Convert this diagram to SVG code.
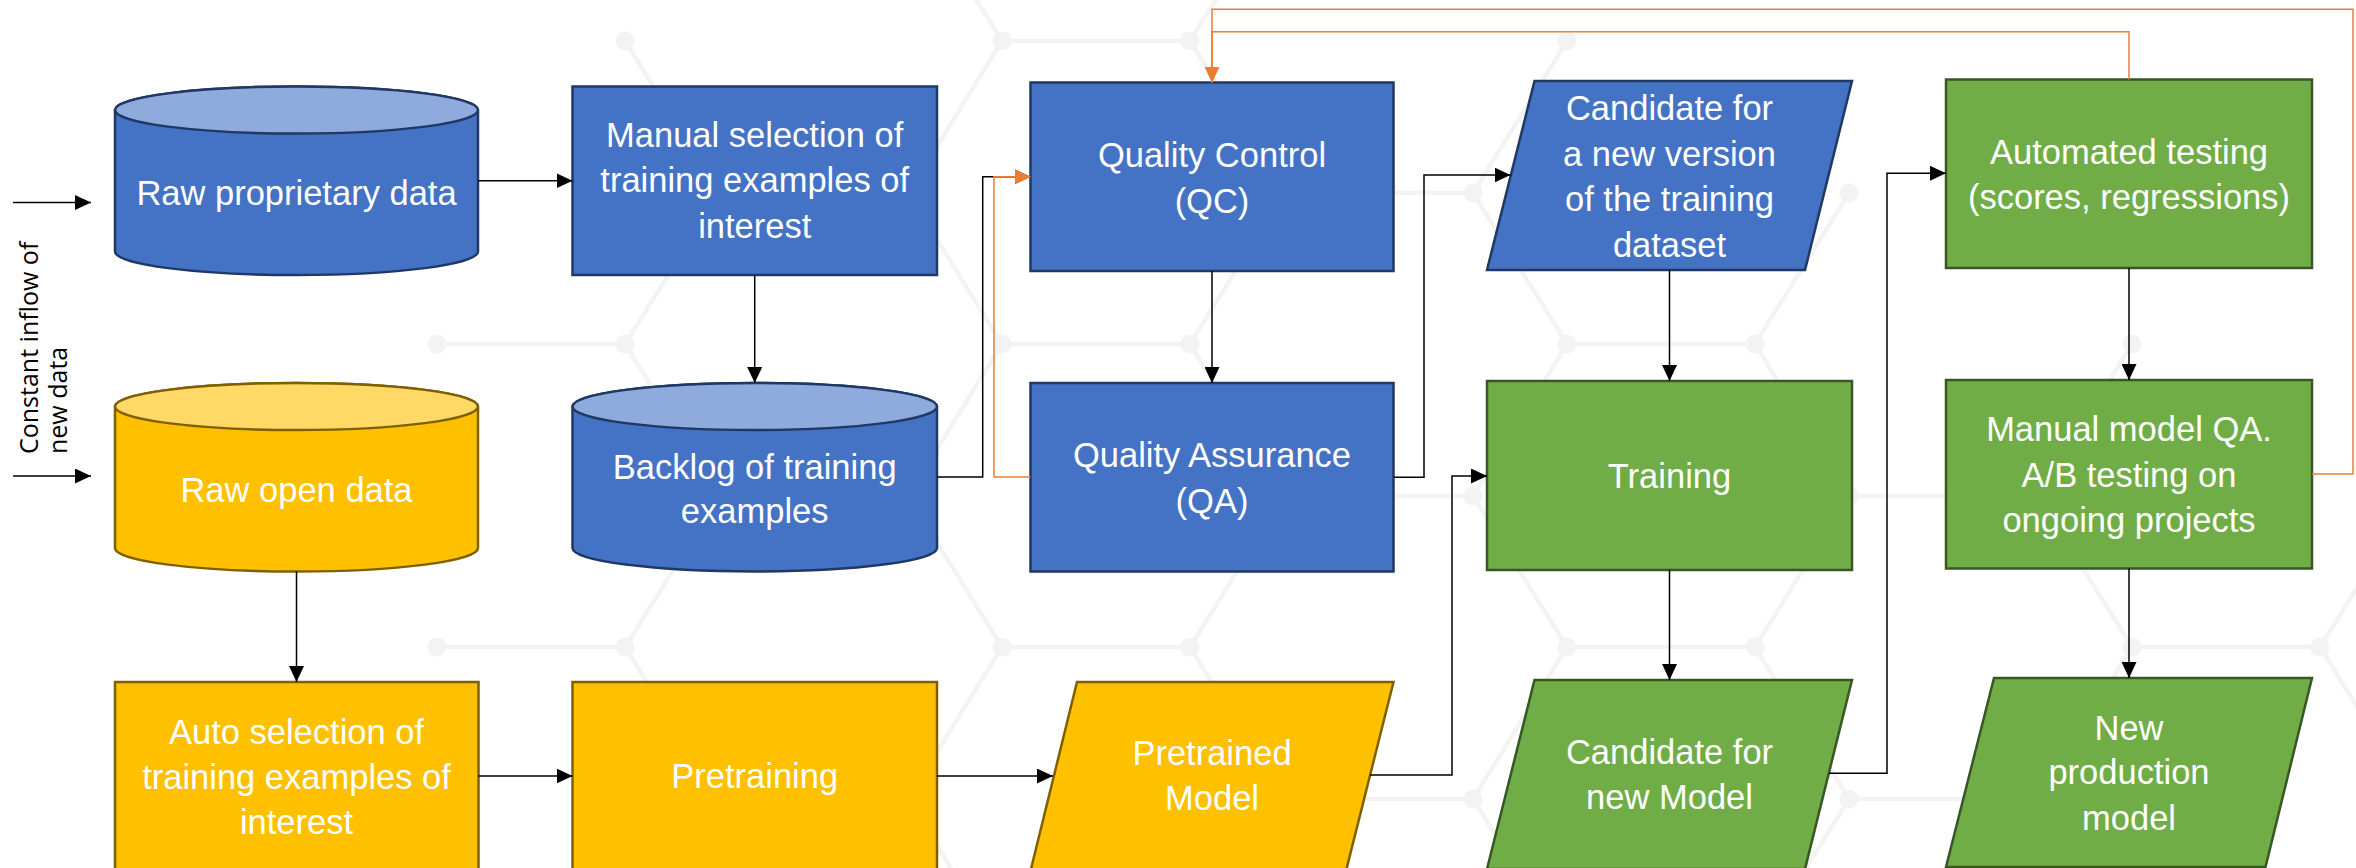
<svg xmlns="http://www.w3.org/2000/svg" width="2356" height="868" viewBox="0 0 2356 868">
  <style>
    .bg { fill: none; stroke: #f3f3f3; stroke-width: 4.5; stroke-linecap: round; }
    .dot { fill: #f3f3f3; }
    .blue { fill: #4472C4; stroke: #1F3864; stroke-width: 2.5; }
    .blueTop { fill: #8FAADC; stroke: #1F3864; stroke-width: 2.5; }
    .yellow { fill: #FFC000; stroke: #7F6000; stroke-width: 2.5; }
    .yellowTop { fill: #FFD966; stroke: #7F6000; stroke-width: 2.5; }
    .green { fill: #70AD47; stroke: #385723; stroke-width: 2.5; }
    .t { font-family: "Liberation Sans", Arial, sans-serif; font-size: 34.5px; fill: #ffffff; text-anchor: middle; }
    .side { font-family: "Open Sans", "DejaVu Sans", sans-serif; font-size: 25px; fill: #000000; }
    .k { fill: none; stroke: #000000; stroke-width: 1.5; }
    .o { fill: none; stroke: #ED7D31; stroke-width: 1.5; }
  </style>
  <defs>
    <marker id="ak" viewBox="0 0 16 15" refX="16" refY="7.5" markerWidth="16" markerHeight="15" markerUnits="userSpaceOnUse" orient="auto">
      <path d="M0,0 L16,7.5 L0,15 Z" fill="#000000"/>
    </marker>
    <marker id="ao" viewBox="0 0 16 15" refX="16" refY="7.5" markerWidth="16" markerHeight="15" markerUnits="userSpaceOnUse" orient="auto">
      <path d="M0,0 L16,7.5 L0,15 Z" fill="#ED7D31"/>
    </marker>
  </defs>

  <rect width="2356" height="868" fill="#ffffff"/>

  <!-- faint hexagon network behind the flow -->
  <g id="background">
    <path class="bg" d="
      M625,41 L720,193
      M908,-110 L1002,41 L1190,41 L1284,-110
      M1002,41 L908,193 M1190,41 L1284,193 M1567,41 L1473,193
      M720,193 L908,193 M1284,193 L1473,193
      M720,193 L625,344 M908,193 L1002,344 M1284,193 L1190,344 M1473,193 L1567,344 M1849,193 L1755,344
      M437,344 L625,344 M1002,344 L1190,344 M1567,344 L1755,344
      M625,344 L720,496 M1002,344 L908,496 M1190,344 L1284,496 M1567,344 L1473,496 M1755,344 L1849,496 M2132,344 L2038,496
      M720,496 L908,496 M1284,496 L1473,496 M1849,496 L2038,496
      M720,496 L625,647 M908,496 L1002,647 M1284,496 L1190,647 M1473,496 L1567,647 M1849,496 L1755,647 M2038,496 L2132,647 M2414,496 L2320,647
      M437,647 L625,647 M1002,647 L1190,647 M1567,647 L1755,647 M2132,647 L2320,647
      M625,647 L720,799 M1002,647 L908,799 M1190,647 L1284,799 M1567,647 L1473,799 M1755,647 L1849,799 M2132,647 L2038,799 M2320,647 L2414,799
      M720,799 L908,799 M1284,799 L1473,799 M1849,799 L2038,799
      M720,799 L625,950 M908,799 L1002,950 M1284,799 L1190,950 M1473,799 L1567,950 M1849,799 L1755,950 M2038,799 L2132,950"/>
    <g class="dot">
      <circle cx="625" cy="41" r="9.5"/><circle cx="1002" cy="41" r="9.5"/><circle cx="1190" cy="41" r="9.5"/><circle cx="1567" cy="41" r="9.5"/>
      <circle cx="1473" cy="193" r="9.5"/><circle cx="1849" cy="193" r="9.5"/>
      <circle cx="437" cy="344" r="9.5"/><circle cx="625" cy="344" r="9.5"/><circle cx="1002" cy="344" r="9.5"/><circle cx="1190" cy="344" r="9.5"/>
      <circle cx="1567" cy="344" r="9.5"/><circle cx="1755" cy="344" r="9.5"/><circle cx="2132" cy="344" r="9.5"/>
      <circle cx="1473" cy="496" r="9.5"/><circle cx="1849" cy="496" r="9.5"/>
      <circle cx="437" cy="647" r="9.5"/><circle cx="625" cy="647" r="9.5"/><circle cx="1002" cy="647" r="9.5"/><circle cx="1190" cy="647" r="9.5"/>
      <circle cx="1567" cy="647" r="9.5"/><circle cx="1755" cy="647" r="9.5"/><circle cx="2132" cy="647" r="9.5"/><circle cx="2320" cy="647" r="9.5"/>
      <circle cx="1473" cy="799" r="9.5"/><circle cx="1849" cy="799" r="9.5"/>
    </g>
  </g>

  <!-- side label for the incoming data -->
  <g id="inflow-label">
    <text class="side" transform="translate(38,454) rotate(-90)">Constant inflow of</text>
    <text class="side" transform="translate(67,454) rotate(-90)">new data</text>
  </g>

  <!-- column 1 -->
  <g id="raw-proprietary">
    <path class="blue" d="M115,110 L115,251.5 A181.5,23.5 0 0 0 478,251.5 L478,110 A181.5,23.5 0 0 0 115,110 Z"/>
    <ellipse class="blueTop" cx="296.5" cy="110" rx="181.5" ry="23.5"/>
    <text class="t" x="296.5" y="205">Raw proprietary data</text>
  </g>
  <g id="raw-open">
    <path class="yellow" d="M115,406.5 L115,548 A181.5,23.5 0 0 0 478,548 L478,406.5 A181.5,23.5 0 0 0 115,406.5 Z"/>
    <ellipse class="yellowTop" cx="296.5" cy="406.5" rx="181.5" ry="23.5"/>
    <text class="t" x="296.5" y="502">Raw open data</text>
  </g>
  <g id="auto-selection">
    <rect class="yellow" x="115" y="682" width="363.5" height="189"/>
    <text class="t" x="296.5" y="743.5">Auto selection of</text>
    <text class="t" x="296.5" y="788.5">training examples of</text>
    <text class="t" x="296.5" y="834">interest</text>
  </g>

  <!-- column 2 -->
  <g id="manual-selection">
    <rect class="blue" x="572.5" y="86.5" width="364.5" height="188.5"/>
    <text class="t" x="754.7" y="147">Manual selection of</text>
    <text class="t" x="754.7" y="192">training examples of</text>
    <text class="t" x="754.7" y="237.5">interest</text>
  </g>
  <g id="backlog">
    <path class="blue" d="M572.5,406.5 L572.5,548 A182.25,23.5 0 0 0 937,548 L937,406.5 A182.25,23.5 0 0 0 572.5,406.5 Z"/>
    <ellipse class="blueTop" cx="754.75" cy="406.5" rx="182.25" ry="23.5"/>
    <text class="t" x="754.7" y="479">Backlog of training</text>
    <text class="t" x="754.7" y="523">examples</text>
  </g>
  <g id="pretraining">
    <rect class="yellow" x="572.5" y="682" width="364.5" height="189"/>
    <text class="t" x="754.7" y="788">Pretraining</text>
  </g>

  <!-- column 3 -->
  <g id="quality-control">
    <rect class="blue" x="1030.5" y="82.5" width="363" height="188.5"/>
    <text class="t" x="1212" y="167">Quality Control</text>
    <text class="t" x="1212" y="212.5">(QC)</text>
  </g>
  <g id="quality-assurance">
    <rect class="blue" x="1030.5" y="383" width="363" height="188.5"/>
    <text class="t" x="1212" y="467">Quality Assurance</text>
    <text class="t" x="1212" y="513">(QA)</text>
  </g>
  <g id="pretrained-model">
    <polygon class="yellow" points="1077,682 1393.5,682 1346,871 1030.5,871"/>
    <text class="t" x="1212" y="765">Pretrained</text>
    <text class="t" x="1212" y="810">Model</text>
  </g>

  <!-- column 4 -->
  <g id="candidate-dataset">
    <polygon class="blue" points="1534.5,81 1852,81 1805,270 1487,270"/>
    <text class="t" x="1669.5" y="119.5">Candidate for</text>
    <text class="t" x="1669.5" y="165.5">a new version</text>
    <text class="t" x="1669.5" y="211">of the training</text>
    <text class="t" x="1669.5" y="256.5">dataset</text>
  </g>
  <g id="training">
    <rect class="green" x="1487" y="381" width="365" height="189"/>
    <text class="t" x="1669.5" y="487.5">Training</text>
  </g>
  <g id="candidate-model">
    <polygon class="green" points="1534.5,680 1852,680 1805,869 1487,869"/>
    <text class="t" x="1669.5" y="763.5">Candidate for</text>
    <text class="t" x="1669.5" y="808.5">new Model</text>
  </g>

  <!-- column 5 -->
  <g id="automated-testing">
    <rect class="green" x="1946" y="79.5" width="366" height="188.5"/>
    <text class="t" x="2129" y="164">Automated testing</text>
    <text class="t" x="2129" y="208.5">(scores, regressions)</text>
  </g>
  <g id="manual-model-qa">
    <rect class="green" x="1946" y="380" width="366" height="188.5"/>
    <text class="t" x="2129" y="440.5">Manual model QA.</text>
    <text class="t" x="2129" y="486.5">A/B testing on</text>
    <text class="t" x="2129" y="531.5">ongoing projects</text>
  </g>
  <g id="new-production-model">
    <polygon class="green" points="1994,678 2312,678 2265.5,867 1946,867"/>
    <text class="t" x="2129" y="739.5">New</text>
    <text class="t" x="2129" y="784">production</text>
    <text class="t" x="2129" y="830">model</text>
  </g>

  <!-- connectors -->
  <g id="connectors">
    <path class="k" marker-end="url(#ak)" d="M13,202.5 H91"/>
    <path class="k" marker-end="url(#ak)" d="M13,476 H91"/>
    <path class="k" marker-end="url(#ak)" d="M478,180.7 H572.5"/>
    <path class="k" marker-end="url(#ak)" d="M754.7,275 V383"/>
    <path class="k" marker-end="url(#ak)" d="M296.5,571.5 V682"/>
    <path class="k" marker-end="url(#ak)" d="M478.5,776 H572.5"/>
    <path class="k" marker-end="url(#ak)" d="M937,776 H1053"/>
    <path class="k" marker-end="url(#ak)" d="M937,477 H982.7 V176.7 H1030.5"/>
    <path class="k" marker-end="url(#ak)" d="M1212,271 V383"/>
    <path class="k" marker-end="url(#ak)" d="M1393.5,477.3 H1424 V175 H1510.5"/>
    <path class="k" marker-end="url(#ak)" d="M1669.5,270 V381"/>
    <path class="k" marker-end="url(#ak)" d="M1370,775 H1452 V476 H1487"/>
    <path class="k" marker-end="url(#ak)" d="M1669.5,570 V680"/>
    <path class="k" marker-end="url(#ak)" d="M1829,773.3 H1887 V173.3 H1946"/>
    <path class="k" marker-end="url(#ak)" d="M2129,268 V380"/>
    <path class="k" marker-end="url(#ak)" d="M2129,568.5 V678"/>
    <path class="o" marker-end="url(#ao)" d="M1030.5,477 H994 V176.7 H1030.5"/>
    <path class="o" marker-end="url(#ao)" d="M2129,79.5 V31.7 H1212 V82.5"/>
    <path class="o" marker-end="url(#ao)" d="M2312,474 H2353 V9.3 H1212 V82.5"/>
  </g>
</svg>
